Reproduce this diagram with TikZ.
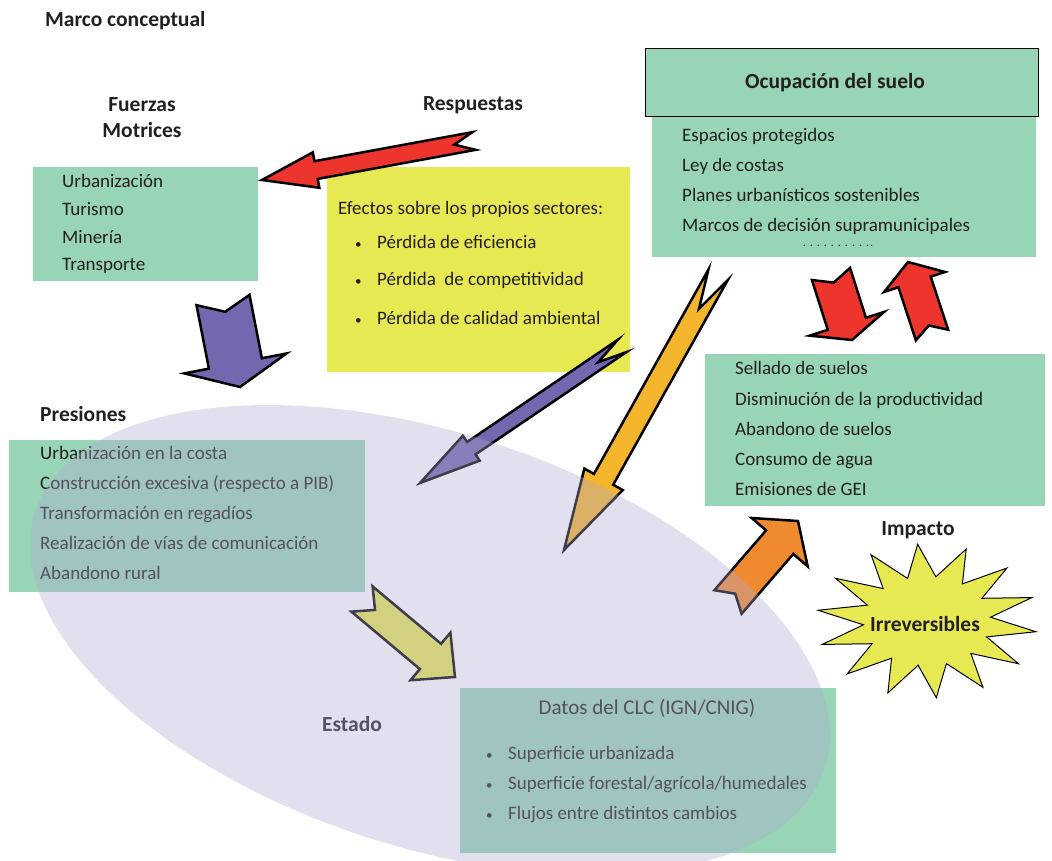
\documentclass[tikz,border=0pt]{standalone}
\usepackage{fontspec}
\setmainfont{Carlito}
\usetikzlibrary{calc, shapes.geometric}

\definecolor{boxgreen}{RGB}{152,212,182}
\definecolor{boxyellow}{RGB}{231,233,82}
\definecolor{arrowred}{RGB}{237,52,45}
\definecolor{arrowpurple}{RGB}{117,103,175}
\definecolor{arrowamber}{RGB}{242,181,43}
\definecolor{arroworange}{RGB}{240,138,48}
\definecolor{lavender}{RGB}{175,169,208}
\definecolor{inktext}{RGB}{35,31,32}

\tikzset{
  greenbox/.style={fill=boxgreen, anchor=north west, inner sep=0pt},
  item/.style={anchor=west, inner sep=0pt, font=\fontsize{19}{22}\selectfont,
    text height=1.6ex, text depth=.4ex, yshift=-4pt, text=inktext},
  heading/.style={inner sep=0pt, font=\fontsize{21.5}{26}\selectfont\bfseries,
    yshift=-2pt, text=inktext},
  arrowshape/.style={draw=black, line width=2.5pt, line join=miter},
}

\newcommand{\smallbullet}{{\fontsize{13}{13}\selectfont\textbullet}}

% block arrow: [style] {tail} {tip} {shaft half width} {head half width} {head length} {notch depth}
\newcommand{\blockarrow}[7][]{%
  \draw[arrowshape, #1] (#3)
    -- ($(#3)!#6!(#2)!#5!90:(#2)$)
    -- ($(#3)!#6!(#2)!#4!90:(#2)$)
    -- ($(#2)!#4!-90:(#3)$)
    -- ($(#2)!#7!(#3)$)
    -- ($(#2)!#4!90:(#3)$)
    -- ($(#3)!#6!(#2)!#4!-90:(#2)$)
    -- ($(#3)!#6!(#2)!#5!-90:(#2)$)
    -- cycle;}

\begin{document}
\begin{tikzpicture}[x=1pt, y=-1pt]
  \useasboundingbox (0,0) rectangle (1052,861);

  % Titles
  \node[heading, anchor=west] (marco) at (45,19) {Marco conceptual};
  \node[heading, align=center] (fuerzas) at (142,116) {Fuerzas\\Motrices};
  \node[heading] (respuestas) at (473,103) {Respuestas};
  \node[heading, anchor=west] (presiones) at (40,412) {Presiones};
  \node[heading] (impacto) at (918,528) {Impacto};

  % Fuerzas motrices
  \node[greenbox, minimum width=225pt, minimum height=114pt] (fmbox) at (33,167) {};
  \foreach \txt [count=\i from 0] in {Urbanización, Turismo, Minería, Transporte}
    \node[item] (fm\i) at (62, {181+27.6*\i}) {\txt};

  % Respuestas
  \node[fill=boxyellow, anchor=north west, minimum width=303pt, minimum height=205pt] (rebox) at (327,167) {};
  \node[item] (retitle) at (338,208) {Efectos sobre los propios sectores:};
  \foreach \txt/\yy [count=\i] in {Pérdida de eficiencia/242, Pérdida\ \ de competitividad/279, Pérdida de calidad ambiental/318}{
    \node[item] (rebul\i) at (355,\yy) {\smallbullet};
    \node[item] (reit\i) at (377,\yy) {\txt};
  }

  % Ocupacion del suelo
  \node[greenbox, minimum width=384pt, minimum height=141pt] (ocbox) at (652,116) {};
  \node[draw=black, line width=1.2pt, fill=boxgreen, anchor=north west,
    minimum width=393pt, minimum height=68pt] (ochead) at (645,48) {};
  \node[heading] (octitle) at (835,81) {Ocupación del suelo};
  \foreach \txt [count=\i from 0] in {Espacios protegidos, Ley de costas,
      Planes urbanísticos sostenibles, Marcos de decisión supramunicipales}
    \node[item] (oc\i) at (682, {135+30*\i}) {\txt};
  \node[item, anchor=base, yshift=4pt, text height=2pt, text depth=0pt,
    font=\fontsize{12}{12}\selectfont] (ocdots) at (838,247)
    {.\hspace{4pt}.\hspace{4pt}.\hspace{4pt}.\hspace{4pt}.\hspace{4pt}.\hspace{4pt}.\hspace{4pt}.\hspace{4pt}.\hspace{4pt}.\hspace{1pt}.};

  % Impacto
  \node[greenbox, minimum width=340pt, minimum height=152pt] (imbox) at (705,354) {};
  \foreach \txt [count=\i from 0] in {Sellado de suelos, Disminución de la productividad,
      Abandono de suelos, Consumo de agua, Emisiones de GEI}
    \node[item] (im\i) at (735, {368+30.2*\i}) {\txt};

  % Presiones
  \node[greenbox, minimum width=356pt, minimum height=152pt] (prbox) at (9,440) {};
  \foreach \txt [count=\i from 0] in {Urbanización en la costa,
      Construcción excesiva (respecto a PIB), Transformación en regadíos,
      Realización de vías de comunicación, Abandono rural}
    \node[item] (pr\i) at (40, {453+30*\i}) {\txt};

  % Estado
  \node[greenbox, minimum width=376pt, minimum height=165pt] (esbox) at (460,688) {};
  \node[item, anchor=center, font=\fontsize{21}{24}\selectfont] (estitle) at (647,708) {Datos del CLC (IGN/CNIG)};
  \foreach \txt/\yy [count=\i] in {Superficie urbanizada/753,
      {Superficie forestal/agrícola/humedales}/783, Flujos entre distintos cambios/813}{
    \node[item] (esbul\i) at (486,\yy) {\smallbullet};
    \node[item] (esit\i) at (508,\yy) {\txt};
  }
  \node[heading] (estado) at (352,722) {Estado};

  % Arrows
  \coordinate (resp-tail) at (474,141);  \coordinate (resp-tip) at (262,180);
  \coordinate (fm-tail) at (223,300);    \coordinate (fm-tip) at (240,387);
  \coordinate (re-tail) at (622,346);    \coordinate (re-tip) at (420,483);
  \coordinate (oc-tail) at (718,275);    \coordinate (oc-tip) at (564,550);
  \coordinate (pr-tail) at (362,599);    \coordinate (pr-tip) at (455,677);
  \coordinate (es-tail) at (728,602);    \coordinate (es-tip) at (798,521);
  \coordinate (down-tail) at (831,274);  \coordinate (down-tip) at (852,340);
  \coordinate (up-tail) at (932,335);    \coordinate (up-tip) at (908,262);

  \blockarrow[fill=arrowred]{resp-tail}{resp-tip}{9pt}{18pt}{55pt}{20pt}
  \blockarrow[fill=arrowpurple]{fm-tail}{fm-tip}{27pt}{52pt}{24pt}{12pt}
  \blockarrow[fill=arrowpurple]{re-tail}{re-tip}{7.5pt}{15pt}{62pt}{29pt}
  \blockarrow[fill=arrowamber]{oc-tail}{oc-tip}{11pt}{22pt}{81pt}{39pt}
  \blockarrow[fill=boxyellow]{pr-tail}{pr-tip}{16.5pt}{31pt}{32pt}{17pt}
  \blockarrow[fill=arroworange]{es-tail}{es-tip}{18pt}{37pt}{28pt}{11pt}
  \blockarrow[fill=arrowred]{down-tail}{down-tip}{20pt}{39pt}{17pt}{9pt}
  \blockarrow[fill=arrowred]{up-tail}{up-tip}{17pt}{32pt}{21pt}{10pt}

  % Irreversibles
  \draw[fill=boxyellow, line width=1pt]
    ({927+110*cos(8)}, {621+77*sin(8)})
    \foreach \i in {1,...,27}{
      -- ({927+110*(1-0.42*mod(\i,2))*cos(\i*360/28+8)}, {621+77*(1-0.42*mod(\i,2))*sin(\i*360/28+8)})
    } -- cycle;
  \node[heading] (irrev) at (925,622) {Irreversibles};

  % Estado overlay
  \node[ellipse, fill=lavender, fill opacity=.36, inner sep=0pt,
    minimum width=830pt, minimum height=414pt, rotate=-18] (estadoell) at (430,640) {};
\end{tikzpicture}
\end{document}
